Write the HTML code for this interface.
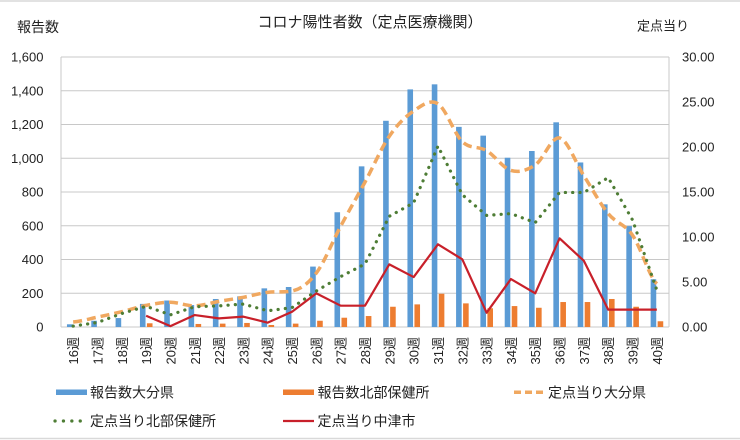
<!DOCTYPE html>
<html><head><meta charset="utf-8">
<style>
html,body{margin:0;padding:0;background:#fff;}
svg{display:block;}
text{font-family:"Liberation Sans","Noto Sans CJK JP",sans-serif;fill:#222;}
.cjk{font-family:"Liberation Sans","Noto Sans CJK JP",sans-serif;}
</style></head>
<body>
<svg width="740" height="440" viewBox="0 0 740 440" xmlns="http://www.w3.org/2000/svg">
<rect x="0" y="0" width="740" height="440" fill="#fff"/>
<line x1="0" y1="1" x2="740" y2="1" stroke="#d9d9d9" stroke-width="1.5"/>
<line x1="0" y1="438.5" x2="740" y2="438.5" stroke="#d9d9d9" stroke-width="1.5"/>

<!-- titles -->
<text x="370" y="27" font-size="15" text-anchor="middle" class="cjk">コロナ陽性者数（定点医療機関）</text>
<text x="17" y="32" font-size="14" class="cjk">報告数</text>
<text x="637" y="30.5" font-size="13" class="cjk">定点当り</text>

<!-- gridlines -->
<g stroke="#c8c8c8" stroke-width="1">
<line x1="61" y1="57" x2="669" y2="57"/>
<line x1="61" y1="90.75" x2="669" y2="90.75"/>
<line x1="61" y1="124.5" x2="669" y2="124.5"/>
<line x1="61" y1="158.25" x2="669" y2="158.25"/>
<line x1="61" y1="192" x2="669" y2="192"/>
<line x1="61" y1="225.75" x2="669" y2="225.75"/>
<line x1="61" y1="259.5" x2="669" y2="259.5"/>
<line x1="61" y1="293.25" x2="669" y2="293.25"/>
<line x1="61" y1="327" x2="669" y2="327"/>
<line x1="61" y1="57" x2="61" y2="327"/>
<line x1="669" y1="57" x2="669" y2="327"/>
</g>

<!-- left ticks -->
<g font-size="13" text-anchor="end">
<text x="43.5" y="61.7">1,600</text>
<text x="43.5" y="95.45">1,400</text>
<text x="43.5" y="129.2">1,200</text>
<text x="43.5" y="162.95">1,000</text>
<text x="43.5" y="196.7">800</text>
<text x="43.5" y="230.45">600</text>
<text x="43.5" y="264.2">400</text>
<text x="43.5" y="297.95">200</text>
<text x="43.5" y="331.7">0</text>
</g>
<!-- right ticks -->
<g font-size="13">
<text x="682" y="61.7">30.00</text>
<text x="682" y="106.7">25.00</text>
<text x="682" y="151.7">20.00</text>
<text x="682" y="196.7">15.00</text>
<text x="682" y="241.7">10.00</text>
<text x="682" y="286.7">5.00</text>
<text x="682" y="331.7">0.00</text>
</g>

<!-- x labels -->
<g font-size="13" text-anchor="end">
<text transform="translate(78.16,337) rotate(-90)">16週</text>
<text transform="translate(102.48,337) rotate(-90)">17週</text>
<text transform="translate(126.80,337) rotate(-90)">18週</text>
<text transform="translate(151.12,337) rotate(-90)">19週</text>
<text transform="translate(175.44,337) rotate(-90)">20週</text>
<text transform="translate(199.76,337) rotate(-90)">21週</text>
<text transform="translate(224.08,337) rotate(-90)">22週</text>
<text transform="translate(248.40,337) rotate(-90)">23週</text>
<text transform="translate(272.72,337) rotate(-90)">24週</text>
<text transform="translate(297.04,337) rotate(-90)">25週</text>
<text transform="translate(321.36,337) rotate(-90)">26週</text>
<text transform="translate(345.68,337) rotate(-90)">27週</text>
<text transform="translate(370.00,337) rotate(-90)">28週</text>
<text transform="translate(394.32,337) rotate(-90)">29週</text>
<text transform="translate(418.64,337) rotate(-90)">30週</text>
<text transform="translate(442.96,337) rotate(-90)">31週</text>
<text transform="translate(467.28,337) rotate(-90)">32週</text>
<text transform="translate(491.60,337) rotate(-90)">33週</text>
<text transform="translate(515.92,337) rotate(-90)">34週</text>
<text transform="translate(540.24,337) rotate(-90)">35週</text>
<text transform="translate(564.56,337) rotate(-90)">36週</text>
<text transform="translate(588.88,337) rotate(-90)">37週</text>
<text transform="translate(613.20,337) rotate(-90)">38週</text>
<text transform="translate(637.52,337) rotate(-90)">39週</text>
<text transform="translate(661.84,337) rotate(-90)">40週</text>
</g>

<!-- blue bars -->
<g transform="translate(0,327) scale(1,-0.16875)" fill="#5b9bd5">
<rect x="66.96" y="0" width="5.6" height="16"/>
<rect x="91.28" y="0" width="5.6" height="37"/>
<rect x="115.60" y="0" width="5.6" height="53"/>
<rect x="139.92" y="0" width="5.6" height="137"/>
<rect x="164.24" y="0" width="5.6" height="157"/>
<rect x="188.56" y="0" width="5.6" height="130"/>
<rect x="212.88" y="0" width="5.6" height="166"/>
<rect x="237.20" y="0" width="5.6" height="182"/>
<rect x="261.52" y="0" width="5.6" height="229"/>
<rect x="285.84" y="0" width="5.6" height="237"/>
<rect x="310.16" y="0" width="5.6" height="358"/>
<rect x="334.48" y="0" width="5.6" height="680"/>
<rect x="358.80" y="0" width="5.6" height="952"/>
<rect x="383.12" y="0" width="5.6" height="1222"/>
<rect x="407.44" y="0" width="5.6" height="1408"/>
<rect x="431.76" y="0" width="5.6" height="1438"/>
<rect x="456.08" y="0" width="5.6" height="1186"/>
<rect x="480.40" y="0" width="5.6" height="1134"/>
<rect x="504.72" y="0" width="5.6" height="1003"/>
<rect x="529.04" y="0" width="5.6" height="1043"/>
<rect x="553.36" y="0" width="5.6" height="1213"/>
<rect x="577.68" y="0" width="5.6" height="975"/>
<rect x="602.00" y="0" width="5.6" height="727"/>
<rect x="626.32" y="0" width="5.6" height="598"/>
<rect x="650.64" y="0" width="5.6" height="283"/>
</g>
<!-- orange bars -->
<g transform="translate(0,327) scale(1,-0.16875)" fill="#ed7d31">
<rect x="146.92" y="0" width="5.6" height="22"/>
<rect x="195.56" y="0" width="5.6" height="18"/>
<rect x="219.88" y="0" width="5.6" height="20"/>
<rect x="244.20" y="0" width="5.6" height="24"/>
<rect x="268.52" y="0" width="5.6" height="12"/>
<rect x="292.84" y="0" width="5.6" height="20"/>
<rect x="317.16" y="0" width="5.6" height="37"/>
<rect x="341.48" y="0" width="5.6" height="55"/>
<rect x="365.80" y="0" width="5.6" height="65"/>
<rect x="390.12" y="0" width="5.6" height="120"/>
<rect x="414.44" y="0" width="5.6" height="134"/>
<rect x="438.76" y="0" width="5.6" height="197"/>
<rect x="463.08" y="0" width="5.6" height="140"/>
<rect x="487.40" y="0" width="5.6" height="111"/>
<rect x="511.72" y="0" width="5.6" height="124"/>
<rect x="536.04" y="0" width="5.6" height="114"/>
<rect x="560.36" y="0" width="5.6" height="148"/>
<rect x="584.68" y="0" width="5.6" height="148"/>
<rect x="609.00" y="0" width="5.6" height="166"/>
<rect x="633.32" y="0" width="5.6" height="120"/>
<rect x="657.64" y="0" width="5.6" height="34"/>
</g>

<!-- dashed orange smoothed line -->
<path fill="none" stroke="#f0a860" stroke-width="3.5" stroke-dasharray="9 5"
d="M73.16,322.05
C81.27,321.23 89.37,318.83 97.48,317.1
C105.59,315.38 113.69,313.65 121.80,311.7
C129.91,309.75 138.01,306.98 146.12,305.4
C154.23,303.83 162.33,302.18 170.44,302.25
C178.55,302.33 186.65,306.0 194.76,305.85
C202.87,305.7 210.97,302.78 219.08,301.35
C227.19,299.93 235.29,298.8 243.40,297.3
C251.51,295.8 259.61,293.4 267.72,292.35
C275.83,291.3 283.93,292.5 292.04,291
C300.15,289.5 308.25,283.8 316.36,273
C324.47,262.2 332.57,241.35 340.68,226.2
C348.79,211.05 356.89,197.1 365.00,182.1
C373.11,167.1 381.21,148.05 389.32,136.2
C397.43,124.35 405.53,116.4 413.64,111
C421.75,105.6 429.85,98.7 437.96,103.8
C446.07,108.9 454.17,133.8 462.28,141.6
C470.39,149.4 478.49,145.8 486.60,150.6
C494.71,155.4 502.81,168.0 510.92,170.4
C519.03,172.8 527.13,170.4 535.24,165
C543.35,159.6 551.45,136.2 559.56,138
C567.67,139.8 575.77,163.2 583.88,175.8
C591.99,188.4 600.09,203.7 608.20,213.6
C616.31,223.5 624.41,223.5 632.52,235.2
C640.63,246.9 648.73,275.7 656.84,283.8"/>

<!-- green dotted -->
<polyline fill="none" stroke="#4e7d35" stroke-width="3.2" stroke-linecap="round" stroke-dasharray="0.1 7.2"
points="73.16,326.1 97.48,322.5 121.80,313.5 146.12,306.3 170.44,314.85 194.76,306.75 219.08,305.85 243.40,304.05 267.72,310.8 292.04,307.65 316.36,291 340.68,276.6 365.00,264 389.32,216.3 413.64,202.8 437.96,146.1 462.28,194.7 486.60,215.4 510.92,213.6 535.24,222.6 559.56,192.45 583.88,192.45 608.20,177.6 632.52,219.9 656.84,290.1"/>

<!-- red line -->
<polyline fill="none" stroke="#c8202a" stroke-width="2.2" stroke-linejoin="round"
points="146.12,315.75 170.44,326.1 194.76,315.03 219.08,318.36 243.40,316.65 267.72,322.68 292.04,311.7 316.36,293.34 340.68,305.67 365.00,305.67 389.32,264.36 413.64,277.05 437.96,244.29 462.28,259.32 486.60,312.69 510.92,279.03 535.24,293.34 559.56,238.35 583.88,260.85 608.20,309.63 632.52,309.63 656.84,309.63"/>

<!-- legend -->
<rect x="56" y="389.5" width="31" height="5.5" fill="#5b9bd5"/>
<text x="90" y="397.5" font-size="14" class="cjk">報告数大分県</text>
<rect x="283" y="389.5" width="31" height="5.5" fill="#ed7d31"/>
<text x="317.5" y="397.5" font-size="14" class="cjk">報告数北部保健所</text>
<line x1="514" y1="392.3" x2="545" y2="392.3" stroke="#f0a860" stroke-width="3.5" stroke-dasharray="7 4"/>
<text x="548" y="397.5" font-size="14" class="cjk">定点当り大分県</text>

<line x1="55" y1="421" x2="82" y2="421" stroke="#4e7d35" stroke-width="3.2" stroke-linecap="round" stroke-dasharray="0.1 8.3"/>
<text x="90" y="426" font-size="14" class="cjk">定点当り北部保健所</text>
<line x1="283" y1="421" x2="314" y2="421" stroke="#c8202a" stroke-width="2.2"/>
<text x="317.5" y="426" font-size="14" class="cjk">定点当り中津市</text>
</svg>
</body></html>
